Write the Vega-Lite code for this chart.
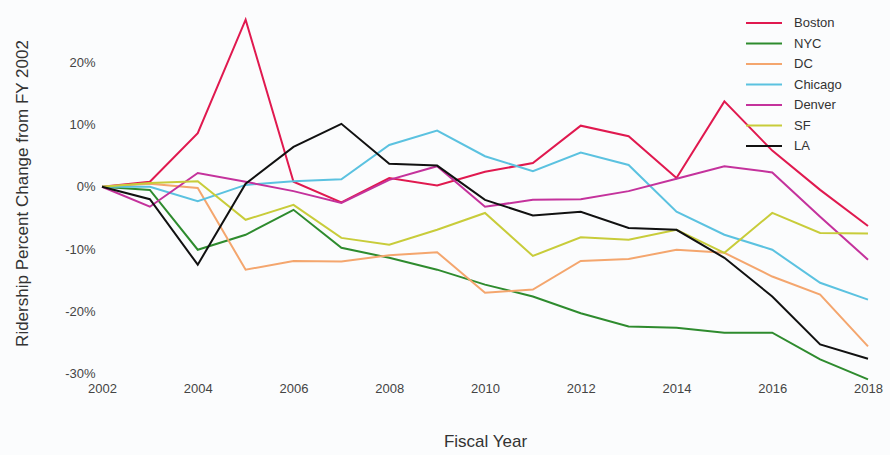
{
  "$schema": "https://vega.github.io/schema/vega-lite/v6.json",
  "autosize": "none",
  "width": 766,
  "height": 374,
  "padding": {"left": 102, "top": 6, "right": 22, "bottom": 75},
  "background": "#fbfcfd",
  "config": {"view": {"stroke": null}, "font": "Liberation Sans"},
  "data": {"values": [
    {"city":"Boston","year":2002,"pct":0},{"city":"Boston","year":2003,"pct":0.8},{"city":"Boston","year":2004,"pct":8.6},{"city":"Boston","year":2005,"pct":26.8},{"city":"Boston","year":2006,"pct":0.8},{"city":"Boston","year":2007,"pct":-2.5},{"city":"Boston","year":2008,"pct":1.4},{"city":"Boston","year":2009,"pct":0.2},{"city":"Boston","year":2010,"pct":2.4},{"city":"Boston","year":2011,"pct":3.8},{"city":"Boston","year":2012,"pct":9.8},{"city":"Boston","year":2013,"pct":8.1},{"city":"Boston","year":2014,"pct":1.4},{"city":"Boston","year":2015,"pct":13.7},{"city":"Boston","year":2016,"pct":5.8},{"city":"Boston","year":2017,"pct":-0.5},{"city":"Boston","year":2018,"pct":-6.3},
    {"city":"NYC","year":2002,"pct":0},{"city":"NYC","year":2003,"pct":-0.5},{"city":"NYC","year":2004,"pct":-10.1},{"city":"NYC","year":2005,"pct":-7.7},{"city":"NYC","year":2006,"pct":-3.7},{"city":"NYC","year":2007,"pct":-9.8},{"city":"NYC","year":2008,"pct":-11.4},{"city":"NYC","year":2009,"pct":-13.3},{"city":"NYC","year":2010,"pct":-15.7},{"city":"NYC","year":2011,"pct":-17.6},{"city":"NYC","year":2012,"pct":-20.3},{"city":"NYC","year":2013,"pct":-22.4},{"city":"NYC","year":2014,"pct":-22.6},{"city":"NYC","year":2015,"pct":-23.4},{"city":"NYC","year":2016,"pct":-23.4},{"city":"NYC","year":2017,"pct":-27.7},{"city":"NYC","year":2018,"pct":-30.9},
    {"city":"DC","year":2002,"pct":0},{"city":"DC","year":2003,"pct":0.5},{"city":"DC","year":2004,"pct":-0.2},{"city":"DC","year":2005,"pct":-13.3},{"city":"DC","year":2006,"pct":-11.9},{"city":"DC","year":2007,"pct":-12.0},{"city":"DC","year":2008,"pct":-11.0},{"city":"DC","year":2009,"pct":-10.5},{"city":"DC","year":2010,"pct":-17.0},{"city":"DC","year":2011,"pct":-16.5},{"city":"DC","year":2012,"pct":-11.9},{"city":"DC","year":2013,"pct":-11.6},{"city":"DC","year":2014,"pct":-10.1},{"city":"DC","year":2015,"pct":-10.6},{"city":"DC","year":2016,"pct":-14.4},{"city":"DC","year":2017,"pct":-17.3},{"city":"DC","year":2018,"pct":-25.6},
    {"city":"Chicago","year":2002,"pct":0},{"city":"Chicago","year":2003,"pct":0},{"city":"Chicago","year":2004,"pct":-2.3},{"city":"Chicago","year":2005,"pct":0.3},{"city":"Chicago","year":2006,"pct":0.9},{"city":"Chicago","year":2007,"pct":1.2},{"city":"Chicago","year":2008,"pct":6.7},{"city":"Chicago","year":2009,"pct":9.0},{"city":"Chicago","year":2010,"pct":4.9},{"city":"Chicago","year":2011,"pct":2.5},{"city":"Chicago","year":2012,"pct":5.5},{"city":"Chicago","year":2013,"pct":3.5},{"city":"Chicago","year":2014,"pct":-4.0},{"city":"Chicago","year":2015,"pct":-7.7},{"city":"Chicago","year":2016,"pct":-10.1},{"city":"Chicago","year":2017,"pct":-15.4},{"city":"Chicago","year":2018,"pct":-18.1},
    {"city":"Denver","year":2002,"pct":0},{"city":"Denver","year":2003,"pct":-3.2},{"city":"Denver","year":2004,"pct":2.2},{"city":"Denver","year":2005,"pct":0.8},{"city":"Denver","year":2006,"pct":-0.7},{"city":"Denver","year":2007,"pct":-2.6},{"city":"Denver","year":2008,"pct":1.1},{"city":"Denver","year":2009,"pct":3.3},{"city":"Denver","year":2010,"pct":-3.2},{"city":"Denver","year":2011,"pct":-2.1},{"city":"Denver","year":2012,"pct":-2.0},{"city":"Denver","year":2013,"pct":-0.7},{"city":"Denver","year":2014,"pct":1.3},{"city":"Denver","year":2015,"pct":3.3},{"city":"Denver","year":2016,"pct":2.3},{"city":"Denver","year":2017,"pct":-4.8},{"city":"Denver","year":2018,"pct":-11.7},
    {"city":"SF","year":2002,"pct":0},{"city":"SF","year":2003,"pct":0.6},{"city":"SF","year":2004,"pct":0.9},{"city":"SF","year":2005,"pct":-5.3},{"city":"SF","year":2006,"pct":-2.9},{"city":"SF","year":2007,"pct":-8.2},{"city":"SF","year":2008,"pct":-9.3},{"city":"SF","year":2009,"pct":-6.9},{"city":"SF","year":2010,"pct":-4.2},{"city":"SF","year":2011,"pct":-11.1},{"city":"SF","year":2012,"pct":-8.1},{"city":"SF","year":2013,"pct":-8.5},{"city":"SF","year":2014,"pct":-6.9},{"city":"SF","year":2015,"pct":-10.6},{"city":"SF","year":2016,"pct":-4.2},{"city":"SF","year":2017,"pct":-7.4},{"city":"SF","year":2018,"pct":-7.5},
    {"city":"LA","year":2002,"pct":0},{"city":"LA","year":2003,"pct":-2.0},{"city":"LA","year":2004,"pct":-12.5},{"city":"LA","year":2005,"pct":0.5},{"city":"LA","year":2006,"pct":6.4},{"city":"LA","year":2007,"pct":10.1},{"city":"LA","year":2008,"pct":3.7},{"city":"LA","year":2009,"pct":3.4},{"city":"LA","year":2010,"pct":-2.1},{"city":"LA","year":2011,"pct":-4.6},{"city":"LA","year":2012,"pct":-4.0},{"city":"LA","year":2013,"pct":-6.6},{"city":"LA","year":2014,"pct":-6.9},{"city":"LA","year":2015,"pct":-11.4},{"city":"LA","year":2016,"pct":-17.6},{"city":"LA","year":2017,"pct":-25.3},{"city":"LA","year":2018,"pct":-27.6}
  ]},
  "mark": {"type": "line", "strokeWidth": 2},
  "encoding": {
    "x": {
      "field": "year", "type": "quantitative",
      "scale": {"domain": [2002, 2018], "nice": false, "zero": false},
      "axis": {
        "values": [2002,2004,2006,2008,2010,2012,2014,2016,2018],
        "format": "d", "grid": false, "domain": false, "ticks": false,
        "labelFlush": false, "labelBound": false, "labelOverlap": false,
        "labelFontSize": 13, "labelColor": "#444", "labelPadding": 2,
        "title": "Fiscal Year", "titleFontSize": 17, "titleFontWeight": "normal",
        "titleColor": "#333", "titlePadding": 38
      }
    },
    "y": {
      "field": "pct", "type": "quantitative",
      "scale": {"domain": [-31, 29], "nice": false, "zero": false},
      "axis": {
        "values": [-30,-20,-10,0,10,20],
        "labelExpr": "datum.value + '%'",
        "grid": false, "domain": false, "ticks": false,
        "labelFontSize": 13, "labelColor": "#444", "labelPadding": 7,
        "title": "Ridership Percent Change from FY 2002", "titleFontSize": 17,
        "titleFontWeight": "normal", "titleColor": "#333", "titlePadding": 33
      }
    },
    "color": {
      "field": "city", "type": "nominal",
      "scale": {
        "domain": ["Boston","NYC","DC","Chicago","Denver","SF","LA"],
        "range": ["#e0194f","#2e8b2e","#f4a66e","#5bc2e0","#c4329c","#c8cc3a","#111111"]
      },
      "legend": {
        "title": null, "orient": "none", "legendX": 652, "legendY": 7,
        "symbolType": "M-2,0H2", "symbolSize": 324, "symbolStrokeWidth": 2,
        "labelFontSize": 13, "labelColor": "#333", "labelOffset": 20,
        "rowPadding": 3.5, "padding": 0
      }
    }
  }
}
